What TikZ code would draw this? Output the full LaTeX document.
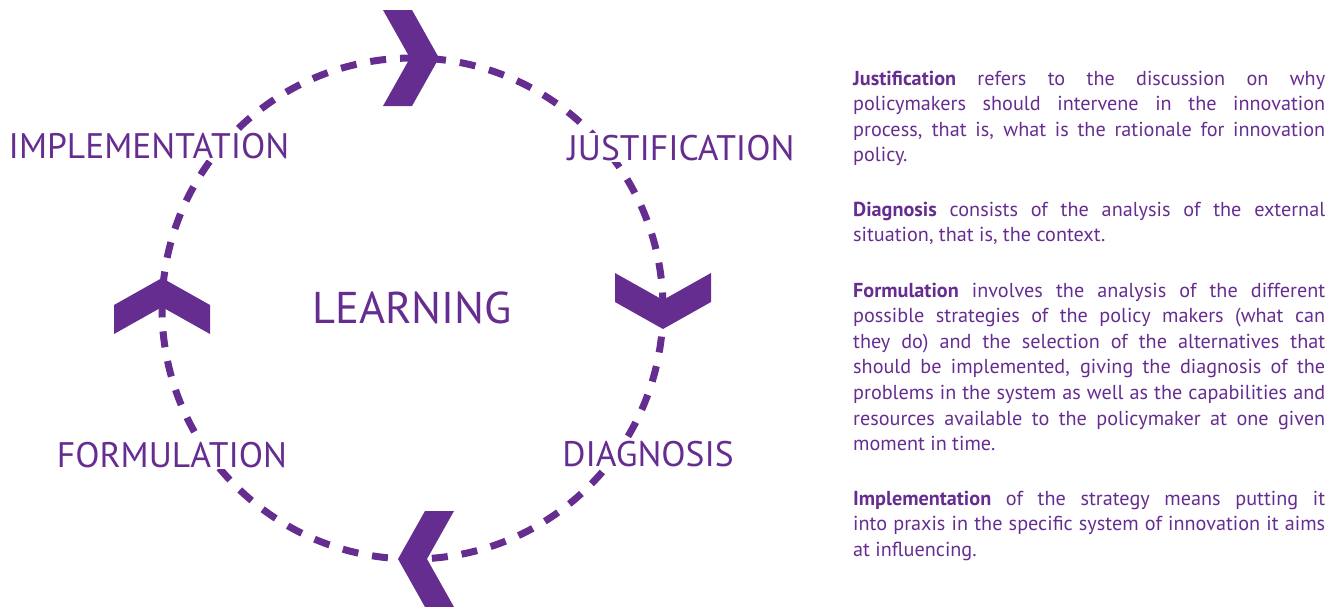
\documentclass[tikz,border=0pt]{standalone}
\usepackage{fontspec}
\setmainfont{PT Sans}
\usepackage{xcolor}
\definecolor{policypurple}{RGB}{102,45,145}

\begin{document}
\begin{tikzpicture}[x=1pt, y=-1pt,
                    every node/.style={text=policypurple},
                    stage node/.style={fill=white, inner sep=2pt, anchor=base,
                                       font=\fontsize{35.5}{38}\selectfont},
                    centre node/.style={anchor=base, font=\fontsize{44.5}{48}\selectfont},
                    text node/.style={anchor=base west, inner sep=0pt, text width=472pt,
                                      align=justify, font=\fontsize{20.2}{25.6}\selectfont,
                                      execute at begin node={\hyphenpenalty=10000\relax}},
                    ring/.style={draw=policypurple, line width=7pt, dash pattern=on 16pt off 14pt},
                    chevron/.style={fill=policypurple}]

  \useasboundingbox (0,0) rectangle (1342,606);

  % the learning cycle
  \coordinate (O) at (412.5,308.5);
  \draw[ring] (O) circle (250.5pt);

  % chevrons: tip x / tip y / direction
  \foreach \x/\y/\a in {439/58/0, 663/329/-90, 398/559/180, 162/278/90}
    \fill[chevron, shift={(\x,\y)}, rotate=\a]
      (0,0) -- (-27,-48) -- (-56,-48) -- (-29,0) -- (-56,48) -- (-27,48) -- cycle;

  \node[stage node] (impl) at (149,158) {IMPLEMENTATION};
  \node[stage node] (just) at (681,160) {JUSTIFICATION};
  \node[stage node] (diag) at (648,466) {DIAGNOSIS};
  \node[stage node] (form) at (172,467) {FORMULATION};
  \node[centre node] (learn) at (412,323) {LEARNING};

  % explanations
  \node[text node] (justtext) at (853,85) {\textbf{Justification} refers to the discussion on why\linebreak
    policymakers should intervene in the innovation\linebreak
    process, that is, what is the rationale for innovation\linebreak
    policy.};
  \node[text node] (diagtext) at (853,216) {\textbf{Diagnosis} consists of the analysis of the external\linebreak
    situation, that is, the context.};
  \node[text node] (formtext) at (853,297) {\textbf{Formulation} involves the analysis of the different\linebreak
    possible strategies of the policy makers (what can\linebreak
    they do) and the selection of the alternatives that\linebreak
    should be implemented, giving the diagnosis of the\linebreak
    problems in the system as well as the capabilities and\linebreak
    resources available to the policymaker at one given\linebreak
    moment in time.};
  \node[text node] (impltext) at (853,505) {\textbf{Implementation} of the strategy means putting it\linebreak
    into praxis in the specific system of innovation it aims\linebreak
    at influencing.};
\end{tikzpicture}
\end{document}
